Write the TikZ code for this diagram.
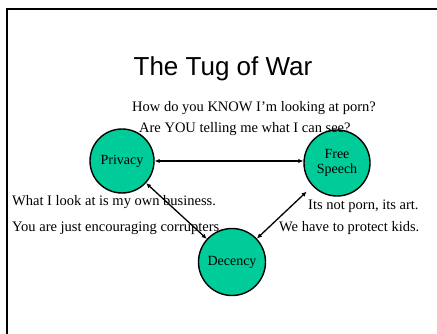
\documentclass[tikz,border=0pt]{standalone}
\usepackage{fontspec}
\setmainfont{Liberation Serif}
\newfontfamily\titlefont{Liberation Sans}
\usetikzlibrary{arrows.meta}
\definecolor{circfill}{RGB}{0,204,153}
\tikzset{
  topic/.style={circle, draw=black, line width=1.4pt, fill=circfill, minimum size=#1, inner sep=0pt, align=center, font=\fontsize{14}{16}\selectfont},
  remark/.style={anchor=base west, inner sep=0pt, font=\fontsize{14.5}{16}\selectfont},
  link/.style={line width=1.3pt, {Latex[length=5pt,width=4.5pt]}-{Latex[length=5pt,width=4.5pt]}}
}
\begin{document}
\begin{tikzpicture}[x=1pt,y=-1pt]
\useasboundingbox (0,0) rectangle (437,334);
\clip (0,0) rectangle (437,334);
\fill[white] (0,0) rectangle (437,334);
\draw[line width=2pt] (7,345) -- (7,9) -- (445,9);
\node[anchor=base, inner sep=0pt, font=\titlefont\fontsize{26}{30}\selectfont] (title) at (223,76) {The Tug of War};
\node[topic=64pt] (priv) at (122,161) {Privacy};
\node[topic=66pt] (fs) at (337,163) {\raisebox{-4pt}{\begin{tabular}{@{}c@{}}Free\\[-1pt]Speech\end{tabular}}};
\node[topic=67pt] (dec) at (232,262) {\raisebox{-2pt}{Decency}};
\draw[link] (priv.east) -- (priv.east -| fs.west);
\draw[link] (priv) -- (dec);
\draw[link, shorten >=8pt] (dec) -- (fs);
\node[remark] (q1) at (132,112) {How do you KNOW I’m looking at porn?};
\node[remark] (q2) at (139,133) {Are YOU telling me what I can see?};
\node[remark] (q3) at (12,206) {What I look at is my own business.};
\node[remark] (q4) at (12,232) {You are just encouraging corrupters.};
\node[remark] (q5) at (308,210) {Its not porn, its art.};
\node[remark] (q6) at (279,232) {We have to protect kids.};
\end{tikzpicture}
\end{document}
